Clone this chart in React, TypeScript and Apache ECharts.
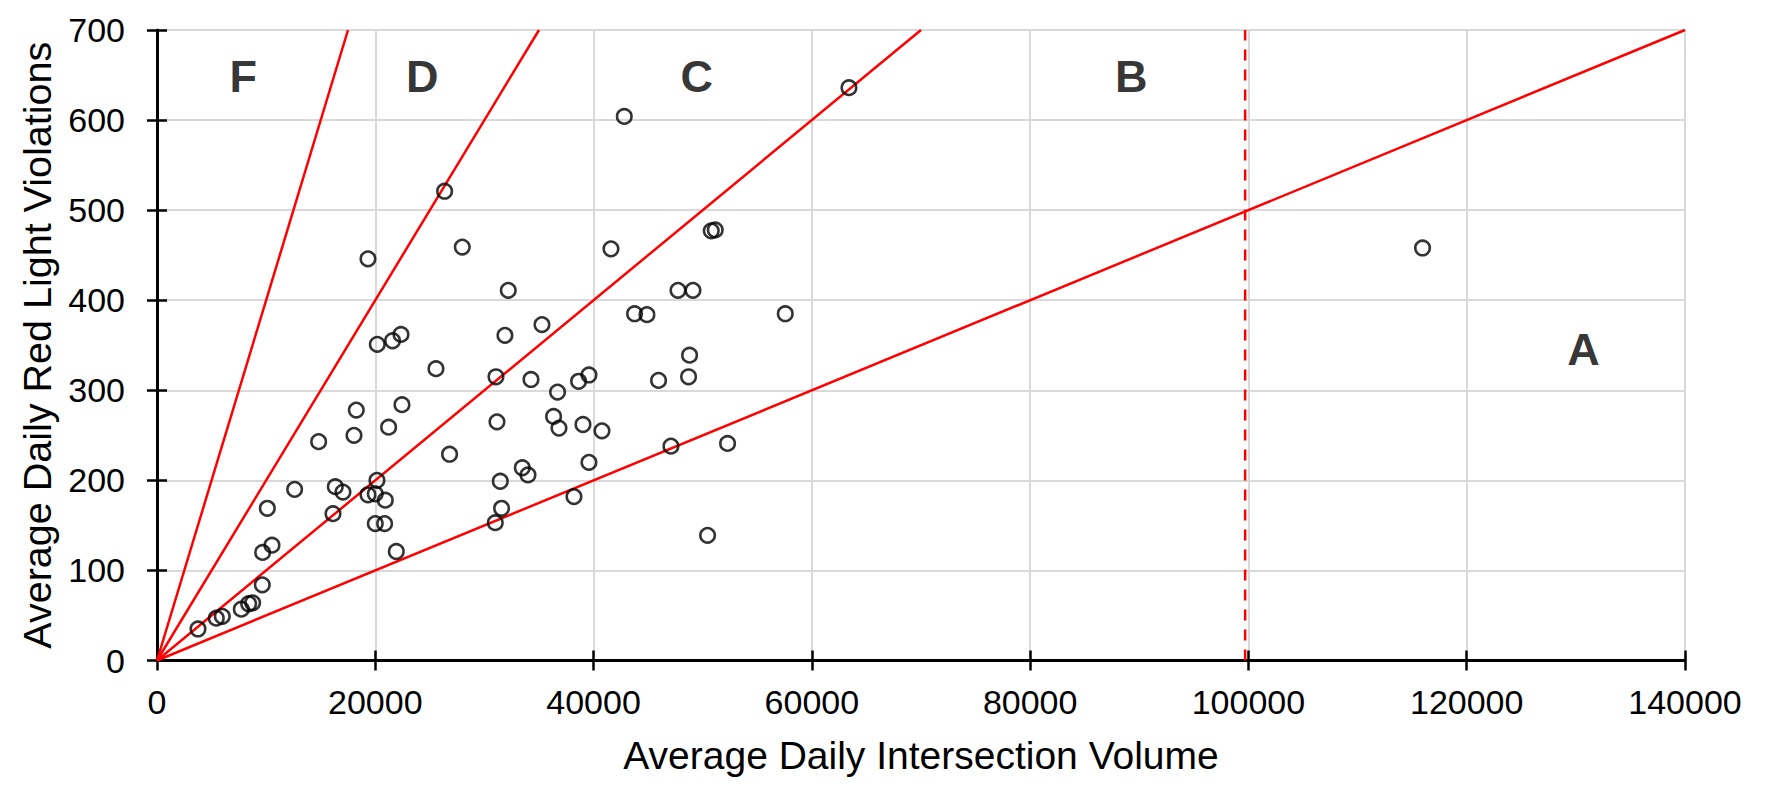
import React, { useEffect, useRef } from "react";
import * as echarts from "echarts";

// Sites: [average daily intersection volume, average daily red light violations]
const sites: [number, number][] = [
  [3756, 35], [5433, 47], [5983, 49], [7725, 57], [8397, 63], [8763, 64],
  [9647, 84], [9677, 120], [10535, 128], [10108, 169], [12610, 190], [14810, 243],
  [16336, 193], [17040, 187], [16125, 163], [18049, 250], [18260, 278], [22445, 284],
  [21222, 259], [19330, 184], [20154, 200], [20000, 185], [20916, 178], [20000, 152],
  [20855, 152], [21925, 121], [19330, 446], [26350, 521], [27970, 459], [32185, 411],
  [31880, 361], [35272, 373], [20183, 351], [21585, 355], [22355, 362], [25560, 324],
  [31058, 315], [34265, 312], [36700, 298], [38626, 310], [39578, 317], [43756, 385],
  [44892, 384], [57563, 385], [48796, 339], [48704, 315], [45955, 311], [31150, 265],
  [36336, 271], [36830, 258], [39029, 262], [40770, 255], [26807, 229], [33468, 214],
  [33990, 206], [39578, 220], [31452, 199], [31572, 169], [30994, 153], [38204, 182],
  [47090, 238], [52277, 241], [50444, 139], [63400, 636], [42813, 604], [41594, 457],
  [50782, 477], [51149, 478], [47733, 411], [49107, 411], [115952, 458],
];

// Grade boundary lines (violations per vehicle ratios) from the origin
const boundaryF: [number, number][] = [[0, 0], [17500, 700]];
const boundaryD: [number, number][] = [[0, 0], [35000, 700]];
const boundaryC: [number, number][] = [[0, 0], [70000, 700]];
const boundaryB: [number, number][] = [[0, 0], [140000, 700]];
const volumeLimit: [number, number][] = [[99700, 0], [99700, 700]];

// Zone letters
const zoneLabels: { name: string; value: [number, number] }[] = [
  { name: "F", value: [7900, 648] },
  { name: "D", value: [24300, 648] },
  { name: "C", value: [49450, 648] },
  { name: "B", value: [89260, 648] },
  { name: "A", value: [130700, 345] },
];

const xMin = 0, xMax = 140000, xStep = 20000;
const yMin = 0, yMax = 700, yStep = 100;

const FONT = "'Liberation Sans', Arial, sans-serif";

export default function App() {
  const ref = useRef<HTMLDivElement>(null);
  useEffect(() => {
    if (!ref.current) return;
    const chart = echarts.init(ref.current, null, { renderer: "svg" });
    const red = "#ff0000";
    const plain = (v: number) => String(v);
    const lineSeries = (data: [number, number][], dashed = false) => ({
      type: "line",
      data,
      symbol: "none",
      silent: true,
      lineStyle: { color: red, width: 2.5, type: dashed ? [11, 9] : "solid" },
      z: 2,
    });
    chart.setOption({
      animation: false,
      backgroundColor: "#ffffff",
      grid: { left: 157, right: 83, top: 30, bottom: 126.5, containLabel: false },
      xAxis: [
        {
          type: "value",
          min: xMin,
          max: xMax,
          interval: xStep,
          position: "bottom",
          name: "Average Daily Intersection Volume",
          nameLocation: "middle",
          nameGap: 75,
          nameTextStyle: { fontFamily: FONT, fontSize: 39, color: "#000" },
          axisLine: { show: true, lineStyle: { color: "#000", width: 3 } },
          axisTick: { show: true, inside: false, length: 10, lineStyle: { color: "#000", width: 2.5 } },
          axisLabel: { fontFamily: FONT, fontSize: 34, color: "#000", margin: 24, formatter: plain },
          splitLine: { show: true, lineStyle: { color: "#d9d9d9", width: 2 } },
        },
        {
          type: "value",
          min: xMin,
          max: xMax,
          interval: xStep,
          position: "bottom",
          axisLine: { show: false },
          axisTick: { show: true, inside: true, length: 10, lineStyle: { color: "#000", width: 2.5 } },
          axisLabel: { show: false },
          splitLine: { show: false },
        },
      ],
      yAxis: [
        {
          type: "value",
          min: yMin,
          max: yMax,
          interval: yStep,
          position: "left",
          name: "Average Daily Red Light Violations",
          nameLocation: "middle",
          nameGap: 100,
          nameTextStyle: { fontFamily: FONT, fontSize: 39.5, color: "#000" },
          axisLine: { show: true, lineStyle: { color: "#000", width: 3 } },
          axisTick: { show: true, inside: false, length: 10, lineStyle: { color: "#000", width: 2.5 } },
          axisLabel: { fontFamily: FONT, fontSize: 34, color: "#000", margin: 32, formatter: plain },
          splitLine: { show: true, lineStyle: { color: "#d9d9d9", width: 2 } },
        },
        {
          type: "value",
          min: yMin,
          max: yMax,
          interval: yStep,
          position: "left",
          axisLine: { show: false },
          axisTick: { show: true, inside: true, length: 10, lineStyle: { color: "#000", width: 2.5 } },
          axisLabel: { show: false },
          splitLine: { show: false },
        },
      ],
      series: [
        lineSeries(boundaryF),
        lineSeries(boundaryD),
        lineSeries(boundaryC),
        lineSeries(boundaryB),
        lineSeries(volumeLimit, true),
        {
          type: "scatter",
          data: sites,
          symbol: "circle",
          symbolSize: 14.5,
          itemStyle: { color: "rgba(0,0,0,0)", borderColor: "#000", borderWidth: 2.6 },
          z: 3,
        },
        {
          type: "scatter",
          data: zoneLabels,
          symbolSize: 1,
          silent: true,
          itemStyle: { color: "rgba(0,0,0,0)", borderWidth: 0 },
          label: {
            show: true,
            position: "inside",
            formatter: "{b}",
            fontFamily: FONT,
            fontSize: 45,
            fontWeight: "bold",
            color: "#000",
            textBorderWidth: 0,
          },
          z: 4,
        },
      ],
    });
    return () => chart.dispose();
  }, []);
  return (
    <div
      ref={ref}
      style={{ position: "absolute", left: 0, top: 0, width: 1768, height: 787 }}
    />
  );
}
